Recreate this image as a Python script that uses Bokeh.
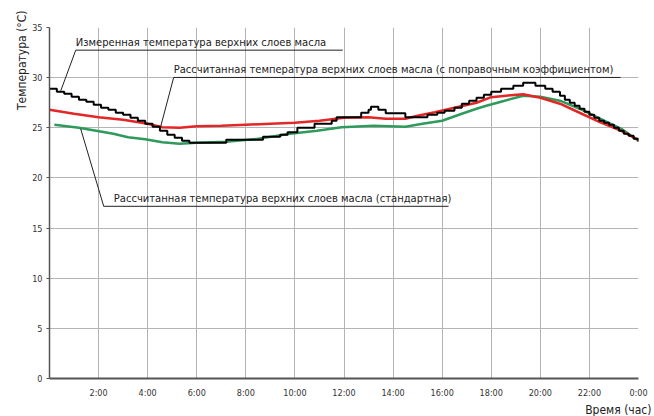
from bokeh.plotting import figure
from bokeh.models import FixedTicker, Label, Title, Range1d
from bokeh.embed import file_html
from bokeh.resources import INLINE

# ---- data (hours, °C) ----
hours_measured = [0.0, 0.3, 0.6, 0.9, 1.2, 1.5, 1.8, 2.1, 2.4, 2.7, 3.0, 3.3, 3.6, 3.9,
                  4.2, 4.5, 4.8, 5.1, 5.4, 5.7, 7.2, 8.7, 9.4, 9.7, 10.1, 10.8, 11.5,
                  11.7, 12.7, 13.0, 13.1, 13.4, 13.7, 14.5, 15.4, 15.8, 16.1, 16.5,
                  16.8, 17.1, 17.4, 17.7, 18.0, 18.4, 18.9, 19.3, 19.8, 20.2, 20.5,
                  20.8, 21.0, 21.2, 21.4, 21.6, 21.8, 22.0, 22.2, 22.4, 22.6, 22.8,
                  23.0, 23.2, 23.4, 23.6, 23.8, 24.0]
temp_measured = [28.9, 28.6, 28.4, 28.1, 27.8, 27.6, 27.3, 27.0, 26.8, 26.5, 26.3, 26.0,
                 25.7, 25.4, 25.1, 24.7, 24.3, 24.0, 23.7, 23.5, 23.8, 24.1, 24.3, 24.55,
                 25.0, 25.4, 25.7, 26.05, 26.5, 26.8, 27.1, 26.8, 26.45, 26.05, 26.3,
                 26.5, 26.7, 27.0, 27.4, 27.7, 28.0, 28.3, 28.6, 28.9, 29.2, 29.5, 29.2,
                 28.9, 28.6, 28.2, 27.8, 27.5, 27.2, 26.9, 26.6, 26.3, 26.0, 25.7, 25.5,
                 25.3, 25.0, 24.7, 24.4, 24.2, 23.9, 23.6]

hours_corrected = [0.0, 1.0, 2.0, 3.0, 4.0, 4.6, 5.3, 6.0, 7.0, 8.0, 9.0, 10.0, 11.0,
                   12.0, 13.0, 13.7, 14.5, 15.0, 15.7, 16.5, 17.4, 18.0, 18.6, 19.3,
                   20.0, 20.8, 21.6, 22.45, 23.3, 24.0]
temp_corrected = [26.8, 26.4, 26.05, 25.8, 25.4, 25.05, 25.0, 25.15, 25.2, 25.3, 25.4,
                  25.5, 25.7, 26.0, 26.05, 25.9, 25.9, 26.2, 26.55, 27.0, 27.5, 28.05,
                  28.2, 28.35, 28.0, 27.4, 26.5, 25.55, 24.7, 23.8]

hours_standard = [0.2, 1.2, 1.9, 2.6, 3.2, 3.9, 4.6, 5.3, 6.0, 7.2, 8.5, 9.8, 10.9, 11.9,
                  13.2, 14.5, 15.2, 16.0, 16.8, 17.4, 17.8, 18.4, 19.3, 20.0, 20.8,
                  21.6, 22.45, 23.3, 24.0]
temp_standard = [25.3, 25.0, 24.7, 24.4, 24.05, 23.85, 23.55, 23.4, 23.5, 23.6, 23.9,
                 24.4, 24.7, 25.05, 25.2, 25.1, 25.4, 25.7, 26.4, 26.9, 27.2, 27.6, 28.2,
                 28.1, 27.7, 26.9, 25.9, 24.9, 23.7]

x_ticks = [2, 4, 6, 8, 10, 12, 14, 16, 18, 20, 22, 24]
x_tick_labels = ["2:00", "4:00", "6:00", "8:00", "10:00", "12:00", "14:00", "16:00",
                 "18:00", "20:00", "22:00", "0:00"]
y_ticks = [0, 5, 10, 15, 20, 25, 30, 35]

label_measured = "Измеренная температура верхних слоев масла"
label_corrected = "Рассчитанная температура верхних слоев масла (с поправочным коэффициентом)"
label_standard = "Рассчитанная температура верхних слоев масла (стандартная)"
y_title = "Температура (°C)"
x_title = "Время (час)"

FONT = "DejaVu Sans Condensed"

p = figure(width=654, height=416, x_range=Range1d(0, 24), y_range=Range1d(0, 35),
           output_backend="svg", toolbar_location=None,
           min_border_left=49, min_border_right=16, min_border_top=27,
           min_border_bottom=37)
p.outline_line_color = None
p.background_fill_color = "white"

# axes
p.xaxis.ticker = FixedTicker(ticks=x_ticks)
p.xaxis.major_label_overrides = dict(zip(x_ticks, x_tick_labels))
p.yaxis.ticker = FixedTicker(ticks=y_ticks)
for ax in (p.xaxis, p.yaxis):
    ax.major_label_text_font = FONT
    ax.major_label_text_font_size = "9px"
    ax.major_label_text_color = "#333333"
    ax.minor_tick_line_color = None
    ax.axis_line_color = "#555555"
    ax.major_tick_line_color = "#555555"
    ax.major_tick_in = 0
p.xaxis.axis_line_width = 2
p.yaxis.axis_line_width = 1.5
p.xaxis.major_tick_out = 0
p.xaxis.major_label_standoff = 9
p.yaxis.major_tick_out = 3
p.yaxis.major_label_standoff = 4

p.xgrid.ticker = FixedTicker(ticks=x_ticks)
p.ygrid.ticker = FixedTicker(ticks=y_ticks)
p.grid.grid_line_color = "#b4b4b4"
p.grid.grid_line_width = 1

# series
p.line(hours_standard, temp_standard, line_color="#2e9a5c", line_width=2.5)
p.line(hours_corrected, temp_corrected, line_color="#e32626", line_width=2.5)
p.step(hours_measured, temp_measured, mode="after", line_color="#000000", line_width=2)

# annotations: (text, text_x, underline_y, underline_x0, underline_x1, leader_end)
annotations = [
    (label_measured, 1.07, 32.74, 1.07, 11.95, (0.46, 28.7)),
    (label_corrected, 5.06, 30.02, 5.06, 23.27, (4.53, 25.12)),
    (label_standard, 2.62, 17.17, 2.21, 16.26, (1.27, 24.9)),
]
for text, tx, uy, ux0, ux1, (lx, ly) in annotations:
    p.line([ux0, ux1], [uy, uy], line_color="#222222", line_width=1)
    p.line([ux0, lx], [uy, ly], line_color="#222222", line_width=1)
    p.add_layout(Label(x=tx, y=uy, y_offset=1, text=text, text_font=FONT,
                       text_font_size="11.1px", text_color="#222222",
                       text_baseline="bottom", text_align="left"))

# axis titles
p.add_layout(Title(text=y_title, align="right", text_font=FONT, text_font_size="12px",
                   text_font_style="normal", text_color="#222222", standoff=2,
                   offset=-17), "left")
p.add_layout(Title(text=x_title, align="right", text_font=FONT, text_font_size="12px",
                   text_font_style="normal", text_color="#222222", standoff=0,
                   offset=-13), "below")

open("out.html", "w").write(file_html(p, INLINE))
